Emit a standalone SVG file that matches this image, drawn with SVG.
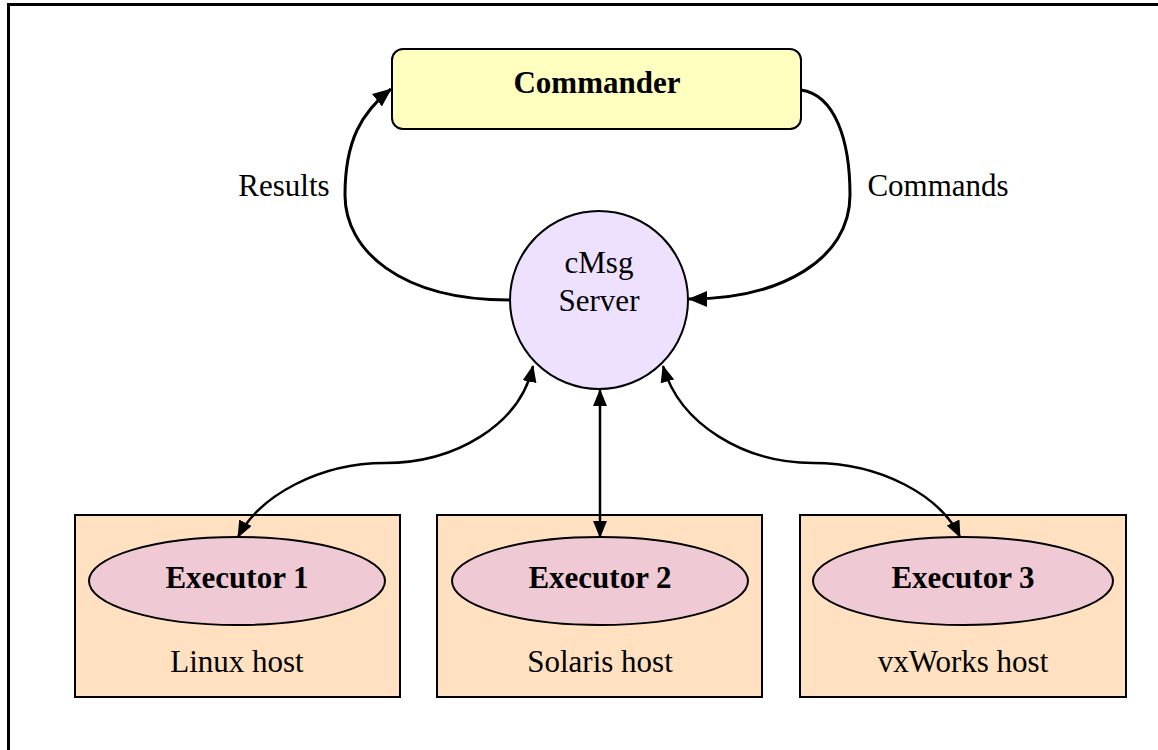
<svg xmlns="http://www.w3.org/2000/svg" width="1158" height="750" viewBox="0 0 1158 750">
<style>
text{font-family:"Liberation Serif","Times New Roman",serif;font-size:31px;fill:#000;text-anchor:middle}
.b{font-weight:bold}
.host{fill:#FFE0C0;stroke:#000;stroke-width:2}
.exec{fill:#EFC9D3;stroke:#000;stroke-width:2}
.c{fill:none;stroke:#000}
</style>
<defs>
<marker id="ah" markerUnits="userSpaceOnUse" markerWidth="17" markerHeight="14" viewBox="0 0 17 14" refX="16" refY="7" orient="auto-start-reverse">
<path d="M0,0 L17,7 L0,14 z" fill="#000"/>
</marker>
<marker id="ahL" markerUnits="userSpaceOnUse" markerWidth="19" markerHeight="16" viewBox="0 0 19 16" refX="18" refY="8" orient="auto-start-reverse">
<path d="M0,0 L19,8 L0,16 z" fill="#000"/>
</marker>
</defs>
<rect x="8.5" y="4.5" width="1200" height="800" fill="none" stroke="#000" stroke-width="3"/>
<g id="commander">
<rect x="392" y="49" width="409" height="80" rx="11" fill="#FFFFC0" stroke="#000" stroke-width="2"/>
<text class="b" x="597" y="93">Commander</text>
</g>
<g id="server">
<circle cx="599" cy="300" r="89" fill="#EEE0FF" stroke="#000" stroke-width="2"/>
<text x="599" y="273">cMsg</text>
<text x="599" y="311">Server</text>
</g>
<g id="host1">
<rect class="host" x="75" y="515" width="325" height="182"/>
<ellipse class="exec" cx="237" cy="581" rx="148" ry="44"/>
<text class="b" x="237" y="588">Executor 1</text>
<text x="237" y="672">Linux host</text>
</g>
<g id="host2">
<rect class="host" x="437" y="515" width="325" height="182"/>
<ellipse class="exec" cx="600" cy="581" rx="148" ry="44"/>
<text class="b" x="600" y="588">Executor 2</text>
<text x="600" y="672">Solaris host</text>
</g>
<g id="host3">
<rect class="host" x="800" y="515" width="326" height="182"/>
<ellipse class="exec" cx="963" cy="581" rx="150" ry="44"/>
<text class="b" x="963" y="588">Executor 3</text>
<text x="963" y="672">vxWorks host</text>
</g>
<g id="connectors">
<path class="c" stroke-width="3" d="M509,300 C400,300 345,250 345,195 C345,140 362,112 391,89" marker-end="url(#ahL)"/>
<path class="c" stroke-width="3" d="M801,90 C835,95 850,140 850,195 C850,260 780,299 689,299" marker-end="url(#ahL)"/>
<path class="c" stroke-width="2.5" d="M533,366 C520,425 455,463 385,463 C320,463 260,495 238,537" marker-start="url(#ah)" marker-end="url(#ah)"/>
<path class="c" stroke-width="2.5" d="M600,390 L600,537" marker-start="url(#ah)" marker-end="url(#ah)"/>
<path class="c" stroke-width="2.5" d="M663,366 C680,425 745,463 813,463 C880,463 940,495 960,537" marker-start="url(#ah)" marker-end="url(#ah)"/>
<text x="284" y="196">Results</text>
<text x="938" y="196">Commands</text>
</g>
</svg>
